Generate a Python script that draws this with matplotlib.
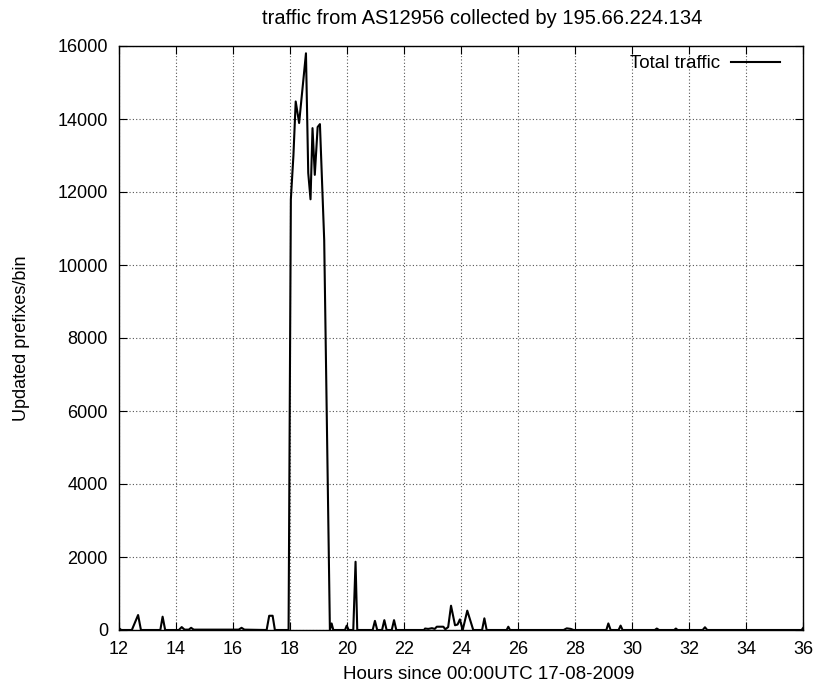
import matplotlib
matplotlib.use('Agg')
import matplotlib.pyplot as plt

plt.rcParams['font.family'] = ['Liberation Sans', 'DejaVu Sans']

hours = [12.00, 12.08, 12.45, 12.67, 12.77, 13.45, 13.53, 13.62, 14.10, 14.20,
         14.30, 14.45, 14.53, 14.62, 15.50, 16.20, 16.30, 16.40, 17.18, 17.27,
         17.39, 17.47, 17.95, 18.03, 18.12, 18.20, 18.32, 18.40, 18.48, 18.56,
         18.64, 18.72, 18.79, 18.87, 18.97, 19.05, 19.20, 19.40, 19.46, 19.52,
         19.93, 19.99, 20.06, 20.22, 20.30, 20.36, 20.90, 20.98, 21.06, 21.23,
         21.31, 21.39, 21.57, 21.65, 21.73, 22.70, 22.74, 22.85, 22.98, 23.08,
         23.15, 23.38, 23.45, 23.55, 23.65, 23.79, 23.88, 23.96, 24.06, 24.22,
         24.43, 24.74, 24.82, 24.90, 25.60, 25.66, 25.72, 27.60, 27.71, 27.85,
         27.95, 29.10, 29.17, 29.25, 29.53, 29.60, 29.67, 30.80, 30.87, 30.95,
         31.48, 31.54, 31.60, 32.48, 32.56, 32.64, 35.95, 36.00]
traffic = [50, 0, 0, 410, 0, 0, 365, 0, 0, 80,
           10, 10, 60, 10, 10, 10, 60, 10, 0, 390,
           390, 0, 0, 11800, 13000, 14480, 13890, 14530, 15160, 15800,
           12520, 11800, 13750, 12470, 13780, 13860, 10680, 0, 180, 0,
           0, 120, 0, 0, 1870, 0, 0, 250, 0, 0,
           270, 0, 0, 270, 0, 0, 40, 30, 50, 30,
           90, 90, 20, 80, 665, 130, 150, 290, 0, 530,
           0, 0, 320, 0, 0, 90, 0, 0, 45, 30,
           0, 0, 180, 0, 0, 120, 0, 0, 40, 0,
           0, 40, 0, 0, 75, 0, 0, 50]

fig = plt.figure(figsize=(8.19, 6.89), dpi=100)
ax = fig.add_axes([119 / 819, 1 - 630 / 689, 684 / 819, 584 / 689])

ax.plot(hours, traffic, color='black', lw=1.5, label='Total traffic')

ax.set_xlim(12, 36)
ax.set_ylim(0, 16000)
ax.set_xticks(range(12, 37, 2))
ax.set_yticks(range(0, 16001, 2000))
ax.tick_params(direction='in', top=True, right=True, length=6, labelsize=13, pad=8)
ax.grid(True, color='#555555', linestyle=(0, (1, 2)), linewidth=0.8)

ax.set_title('traffic from AS12956 collected by 195.66.224.134', fontsize=14.5,
             pad=16, x=0.531)
ax.set_xlabel('Hours since 00:00UTC 17-08-2009', fontsize=13.5, labelpad=6, x=0.541)
ax.set_ylabel('Updated prefixes/bin', fontsize=13, labelpad=20)

ax.legend(loc='upper right', bbox_to_anchor=(0.977, 0.997), frameon=False,
          markerfirst=False, fontsize=13.5, handlelength=2.6,
          handletextpad=0.6, borderaxespad=0)

for s in ax.spines.values():
    s.set_linewidth(1.0)

fig.savefig('out.png', dpi=100)
